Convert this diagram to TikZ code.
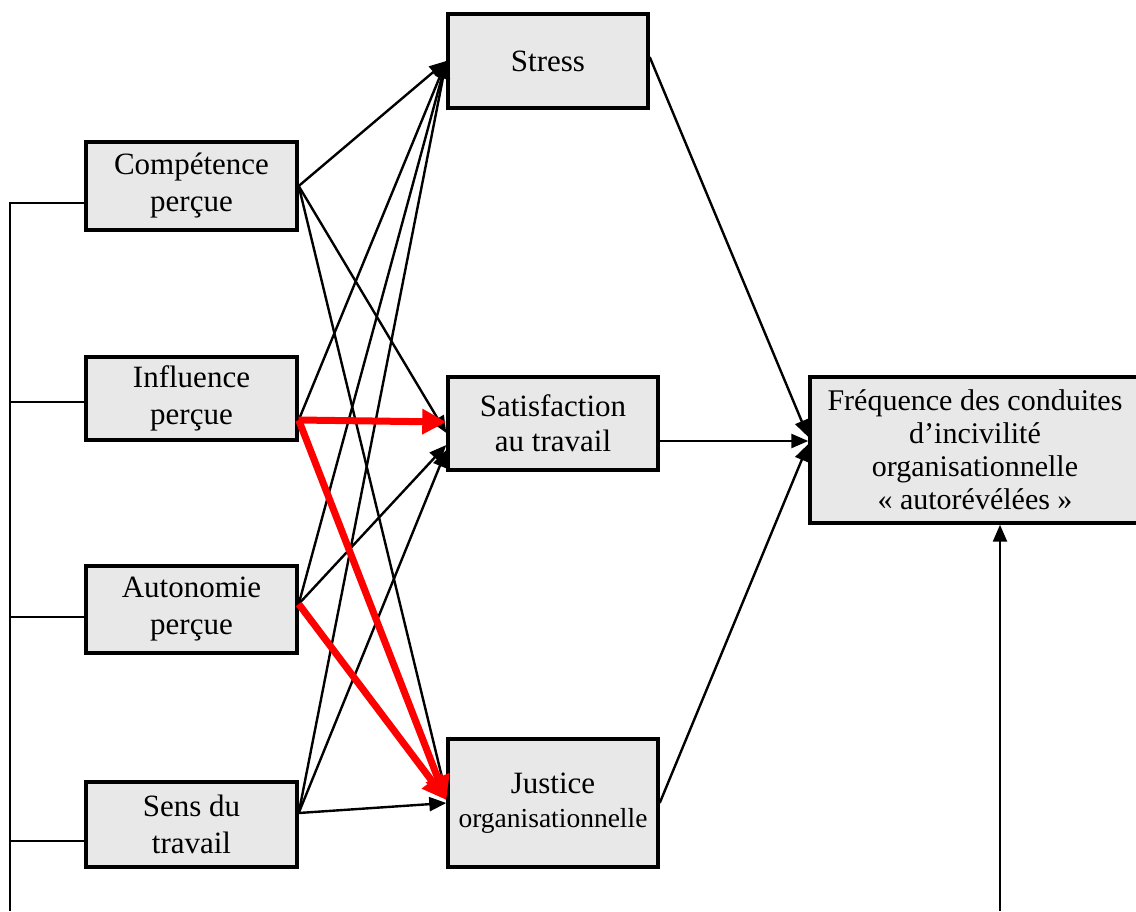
\documentclass[tikz,border=0pt]{standalone}
\usepackage{fontspec}
\setmainfont{Liberation Serif}
\usetikzlibrary{arrows.meta,calc}
\definecolor{boxfill}{RGB}{232,232,232}
\definecolor{hired}{RGB}{255,0,0}

\begin{document}
\begin{tikzpicture}[x=1pt,y=-1pt,
  box/.style={draw=black, line width=3.4pt, fill=boxfill, inner sep=0pt,
    align=center, font=\fontsize{31}{37}\selectfont},
  link/.style={line width=2.4pt, -{Triangle[length=17pt,width=14pt]}},
  strong/.style={line width=7pt, draw=hired,
    -{Triangle[length=24pt,width=24pt]}},
  rail/.style={line width=1.8pt}]
\useasboundingbox (0,0) rectangle (1136,911);

% predictors
\node[box, minimum width=211pt, minimum height=88pt] (comp) at (191.5,186) {Compétence\\perçue};
\node[box, minimum width=211pt, minimum height=83pt] (infl) at (191.5,398.5) {Influence\\perçue};
\node[box, minimum width=211pt, minimum height=87pt] (auto) at (191.5,609.5) {Autonomie\\perçue};
\node[box, minimum width=211pt, minimum height=85pt] (sens) at (191.5,824.5) {Sens du\\travail};

% mediators
\node[box, minimum width=200pt, minimum height=94pt] (stress) at (548,61) {Stress};
\node[box, minimum width=210pt, minimum height=93pt, font=\fontsize{31}{35}\selectfont] (satis) at (553,423.5) {Satisfaction\\au travail};
\node[box, minimum width=210pt, minimum height=128pt, font=\fontsize{31}{34}\selectfont] (just) at (553,803) {Justice\\\fontsize{27.5}{34}\selectfont organisationnelle};

% outcome
\node[box, minimum width=330pt, minimum height=146pt, font=\fontsize{30}{33}\selectfont] (freq) at (975,450) {Fréquence des conduites\\d’incivilité\\organisationnelle\\« autorévélées »};

% attachment points
\coordinate (compR) at (comp.east);
\coordinate (inflR) at ($(infl.east)+(0,21.5)$);
\coordinate (autoR) at ($(auto.east)+(0,-5.5)$);
\coordinate (sensR) at ($(sens.east)+(0,-11.5)$);

\coordinate (satA) at ($(satis.west)+(0,-1.5)$);
\coordinate (satB) at ($(satis.west)+(0,9.5)$);
\coordinate (satC) at ($(satis.west)+(0,21.5)$);
\coordinate (satD) at ($(satis.west)+(0,26.5)$);

\coordinate (jusA) at ($(just.west)+(0,-3)$);
\coordinate (jusB) at ($(just.west)+(0,-8)$);
\coordinate (jusC) at (just.west);

\coordinate (stressR) at ($(stress.east)+(0,-4)$);
\coordinate (satisR) at ($(satis.east)+(0,17.5)$);
\coordinate (justR) at (just.east);
\coordinate (freqA) at ($(freq.west)+(0,-13)$);
\coordinate (freqB) at ($(freq.west)+(0,-9)$);
\coordinate (freqC) at ($(freq.west)+(0,-6)$);

% rail joining the predictors
\coordinate (railBot) at (10,911);
\coordinate (compL) at ($(comp.west)+(0,17)$);
\coordinate (inflL) at ($(infl.west)+(0,3.5)$);
\coordinate (autoL) at ($(auto.west)+(0,7.5)$);
\coordinate (sensL) at ($(sens.west)+(0,16.5)$);
\draw[rail] (railBot) |- (compL);
\draw[rail] (inflL) -- (inflL -| railBot);
\draw[rail] (autoL) -- (autoL -| railBot);
\draw[rail] (sensL) -- (sensL -| railBot);

% paths to stress
\draw[link] (compR) -- (stress.west);
\draw[link] (inflR) -- (stress.west);
\draw[link] (autoR) -- (stress.west);
\draw[link] (sensR) -- (stress.west);

% paths to satisfaction
\draw[link] (compR) -- (satB);
\draw[link] (autoR) -- (satC);
\draw[link] (sensR) -- (satD);

% paths to justice
\draw[link] (compR) -- (jusB);
\draw[link] (sensR) -- (jusC);

% mediators to outcome
\draw[link] (stressR) -- (freqA);
\draw[link] (satisR) -- (freqB);
\draw[link] (justR) -- (freqC);

% feedback into the outcome
\coordinate (feedBot) at (1000,911);
\draw[link] (feedBot) -- (feedBot |- freq.south);

% significant paths
\draw[strong] (inflR) -- (satA);
\draw[strong] (inflR) -- (jusA);
\draw[strong] (autoR) -- (jusA);
\end{tikzpicture}
\end{document}
